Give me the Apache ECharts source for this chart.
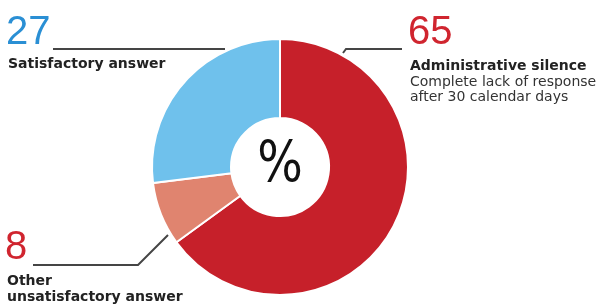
<!DOCTYPE html>
<html lang="en">
<head>
<meta charset="UTF-8">
<title>Administrative silence</title>
<script src="https://cdn.jsdelivr.net/npm/echarts@6/dist/echarts.min.js"></script>
</head>
<body style="margin:0;background:#fff;">
<div id="chart" style="width:601px;height:307px;"></div>
<script>
// share of answers, in %
const categories = ['Administrative silence', 'Other unsatisfactory answer', 'Satisfactory answer'];
const values = [65, 8, 27];
const titleLines = [['Administrative silence'], ['Other', 'unsatisfactory answer'], ['Satisfactory answer']];
const noteLines = [['Complete lack of response', 'after 30 calendar days'], [], []];
const centerText = '%';

const sliceColors = ['#c6202a', '#e0846f', '#6fc1ec'];
const numberColors = ['#d0252f', '#d0252f', '#2a8fd4'];

// where each label block sits (number, leader line, text)
const labelPos = [
    {x: 408, numY: 32.5, textY: 66, line: [[343, 53], [346, 49], [402, 49]]},
    {x: 5, numY: 247.5, textY: 281.5, line: [[33, 265], [138, 265], [168, 235]]},
    {x: 6, numY: 32.5, textY: 64.5, line: [[53, 49], [225, 49]]}
];

const myChart = echarts.init(document.getElementById('chart'), null, {renderer: 'canvas'});

const graphics = [];
values.forEach((v, i) => {
    const p = labelPos[i];
    graphics.push({
        type: 'text', x: p.x, y: p.numY,
        style: {text: String(v), font: '40px "Liberation Sans"', fill: numberColors[i], verticalAlign: 'middle'}
    });
    graphics.push({
        type: 'polyline',
        shape: {points: p.line},
        style: {stroke: '#454545', lineWidth: 2, fill: null}
    });
    let y = p.textY;
    titleLines[i].forEach(t => {
        graphics.push({
            type: 'text', x: p.x + 2, y: y,
            style: {text: t, font: 'bold 14px "DejaVu Sans"', fill: '#222', verticalAlign: 'middle'}
        });
        y += 16;
    });
    noteLines[i].forEach(t => {
        graphics.push({
            type: 'text', x: p.x + 2, y: y,
            style: {text: t, font: '14px "DejaVu Sans"', fill: '#333', verticalAlign: 'middle'}
        });
        y += 15.5;
    });
});
graphics.push({
    type: 'text', x: 280, y: 167, scaleY: 1.2, originX: 0, originY: 0, z: 10,
    style: {text: centerText, font: '48px "DejaVu Sans"', fill: '#111', align: 'center', verticalAlign: 'middle'}
});

const option = {
    animation: false,
    backgroundColor: '#fff',
    series: [{
        type: 'pie',
        center: [280, 167],
        radius: [49, 128],
        startAngle: 90,
        clockwise: true,
        label: {show: false},
        labelLine: {show: false},
        itemStyle: {borderColor: '#fff', borderWidth: 2},
        data: categories.map((c, i) => ({name: c, value: values[i], itemStyle: {color: sliceColors[i]}}))
    }],
    graphic: graphics
};
myChart.setOption(option);
</script>
</body>
</html>
